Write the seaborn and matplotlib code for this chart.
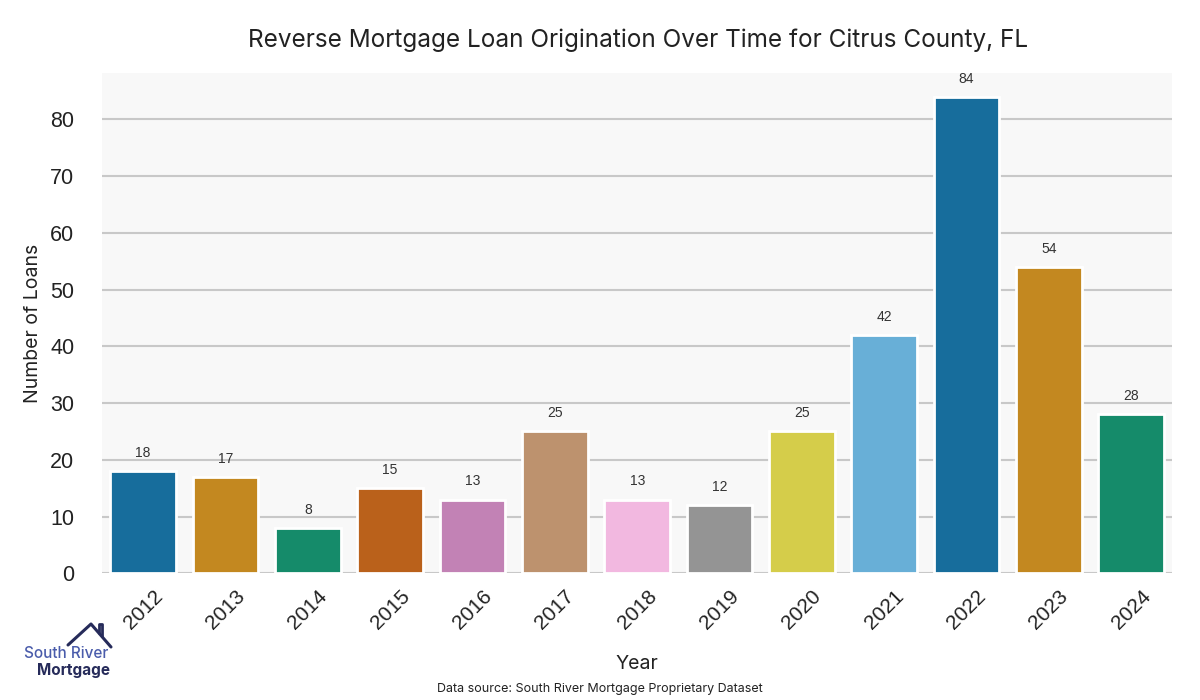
import matplotlib
matplotlib.use("Agg")
import matplotlib.pyplot as plt
from matplotlib.lines import Line2D
import seaborn as sns
import pandas as pd

# data
years = ["2012", "2013", "2014", "2015", "2016", "2017", "2018",
         "2019", "2020", "2021", "2022", "2023", "2024"]
loans = [18, 17, 8, 15, 13, 25, 13, 12, 25, 42, 84, 54, 28]

title = "Reverse Mortgage Loan Origination Over Time for Citrus County, FL"
source_note = "Data source: South River Mortgage Proprietary Dataset"

sns.set_theme(style="whitegrid")
plt.rcParams["font.family"] = ["Liberation Sans", "DejaVu Sans"]

df = pd.DataFrame({"Year": years, "Loans": loans})

fig = plt.figure(figsize=(12, 7), dpi=100)
ax = fig.add_axes([0.085, 0.181, 0.892, 0.715])
ax.set_facecolor("#f8f8f8")

sns.barplot(data=df, x="Year", y="Loans", hue="Year", palette="colorblind",
            legend=False, edgecolor="white", linewidth=2, ax=ax)

for c in ax.containers:
    ax.bar_label(c, fmt="%d", padding=8, fontsize=10, color="#333333")

ax.set_ylim(0, max(loans) * 1.05)
ax.set_xlim(-0.5, len(years) - 0.5)
ax.grid(axis="x", visible=False)
ax.grid(axis="y", color="#c8c8c8", linewidth=1.5)
ax.set_axisbelow(True)
for s in ax.spines.values():
    s.set_visible(False)

ax.tick_params(axis="y", labelsize=15.5, colors="#222222", pad=14)
ax.tick_params(axis="x", labelsize=15, colors="#222222", rotation=45)
for lbl in ax.get_xticklabels():
    lbl.set_horizontalalignment("center")

ax.set_xlabel("Year", fontsize=14, family="Inter", color="#222222", labelpad=16)
ax.set_ylabel("Number of Loans", fontsize=14, family="Inter", color="#222222",
              labelpad=6)

fig.text(0.532, 0.942, title, ha="center", va="center", fontsize=17.5,
         family="Inter", color="#222222")
fig.text(0.5, 0.016, source_note, ha="center", va="center", fontsize=9,
         family="Inter", color="#222222")

# logo
navy = "#262b5a"
fig.add_artist(Line2D([68 / 1200, 91 / 1200, 111 / 1200],
                      [1 - 645 / 700, 1 - 624 / 700, 1 - 647 / 700],
                      transform=fig.transFigure, color=navy, lw=2.2))
fig.add_artist(Line2D([99 / 1200, 99 / 1200, 102 / 1200, 102 / 1200],
                      [1 - 633 / 700, 1 - 624 / 700, 1 - 624 / 700, 1 - 636 / 700],
                      transform=fig.transFigure, color=navy, lw=2.0))
fig.text(66 / 1200, 1 - 653 / 700, "South River", ha="center", va="center",
         fontsize=11, fontweight="medium", color="#4a5cab", family="Inter")
fig.text(110 / 1200, 1 - 670 / 700, "Mortgage", ha="right", va="center",
         fontsize=11, fontweight="bold", color=navy, family="Inter")

fig.savefig("out.png", dpi=100)
